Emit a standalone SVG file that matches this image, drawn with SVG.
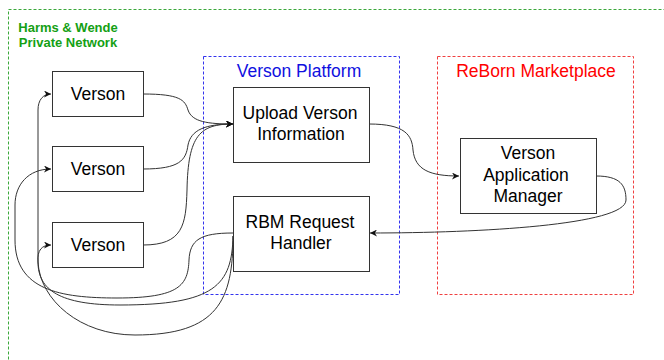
<svg xmlns="http://www.w3.org/2000/svg" width="664" height="360" viewBox="0 0 664 360">
<defs>
<marker id="arr" viewBox="0 0 10 10" refX="10" refY="5" markerWidth="7" markerHeight="7" markerUnits="userSpaceOnUse" orient="auto">
<path d="M0,0 L10,5 L0,10 L3,5 z" fill="#111"/>
</marker>
<style>
.box{fill:#fff;stroke:#333;stroke-width:1}
.grp{fill:none;stroke-width:1;stroke-dasharray:3,2}
.lbl{font-family:"Liberation Sans",Arial,sans-serif;font-size:17.5px;fill:#000;text-anchor:middle}
.edge{fill:none;stroke:#333;stroke-width:1;marker-end:url(#arr)}
</style>
</defs>
<rect width="664" height="360" fill="#fff"/>
<g id="network">
<rect class="grp" x="8.5" y="9.5" width="700" height="400" stroke="#3aa83a"/>
<text font-family="'Liberation Sans',Arial,sans-serif" font-size="13" font-weight="bold" fill="#14a014" text-anchor="middle"><tspan x="68" y="32">Harms &amp; Wende</tspan><tspan x="68" y="47">Private Network</tspan></text>
</g>
<g id="platform">
<rect class="grp" x="203.5" y="56.5" width="196" height="238" stroke="#3333ee"/>
<text class="lbl" x="299" y="77" fill="#0000dd" style="fill:#1010e0">Verson Platform</text>
</g>
<g id="marketplace">
<rect class="grp" x="437.5" y="56.5" width="196" height="238" stroke="#f04040"/>
<text class="lbl" x="536" y="77" style="fill:#ff0000">ReBorn Marketplace</text>
</g>
<g id="edges">
<path class="edge" d="M143,94 C180,94 185,100 188,110 C192,122 208,124 233,124"/>
<path class="edge" d="M143,169 C180,169 186,160 188,145 C191,130 205,124 233,124"/>
<path class="edge" d="M143,245 C183,245 186,225 187,190 C188,135 200,124 233,124"/>
<path class="edge" d="M369,124 C405,124 412,135 413,150 C415,170 430,176 459,176"/>
<path class="edge" d="M596,176 C620,176 626,185 626,200 C626,225 480,233 370,233"/>
<path class="edge" d="M233,233 C200,233 190,240 189,260 C188,285 180,298 117,298 C60,298 15,290 15,240 L15,205 C15,185 28,169 51,169"/>
<path class="edge" d="M233,236 C232,285 215,305 120,305 C60,305 38,290 38,262 L38,110 C38,100 43,94 51,94"/>
<path class="edge" d="M233,236 C233,300 218,335 135,335 C80,335 40,300 38,262 C37,250 42,245 51,245"/>
</g>
<g id="verson1"><rect class="box" x="52.5" y="71.5" width="91" height="45"/><text class="lbl" x="98" y="100">Verson</text></g>
<g id="verson2"><rect class="box" x="52.5" y="146.5" width="91" height="45"/><text class="lbl" x="98" y="175">Verson</text></g>
<g id="verson3"><rect class="box" x="52.5" y="222.5" width="91" height="45"/><text class="lbl" x="98" y="251">Verson</text></g>
<g id="upload"><rect class="box" x="233.5" y="87.5" width="136" height="75"/><text class="lbl"><tspan x="300" y="119">Upload Verson</tspan><tspan x="301" y="140">Information</tspan></text></g>
<g id="rbm"><rect class="box" x="233.5" y="196.5" width="136" height="75"/><text class="lbl"><tspan x="300" y="228">RBM Request</tspan><tspan x="301" y="249">Handler</tspan></text></g>
<g id="vam"><rect class="box" x="460.5" y="138.5" width="136" height="75"/><text class="lbl"><tspan x="528" y="159">Verson</tspan><tspan x="526" y="181">Application</tspan><tspan x="528" y="202">Manager</tspan></text></g>
</svg>
